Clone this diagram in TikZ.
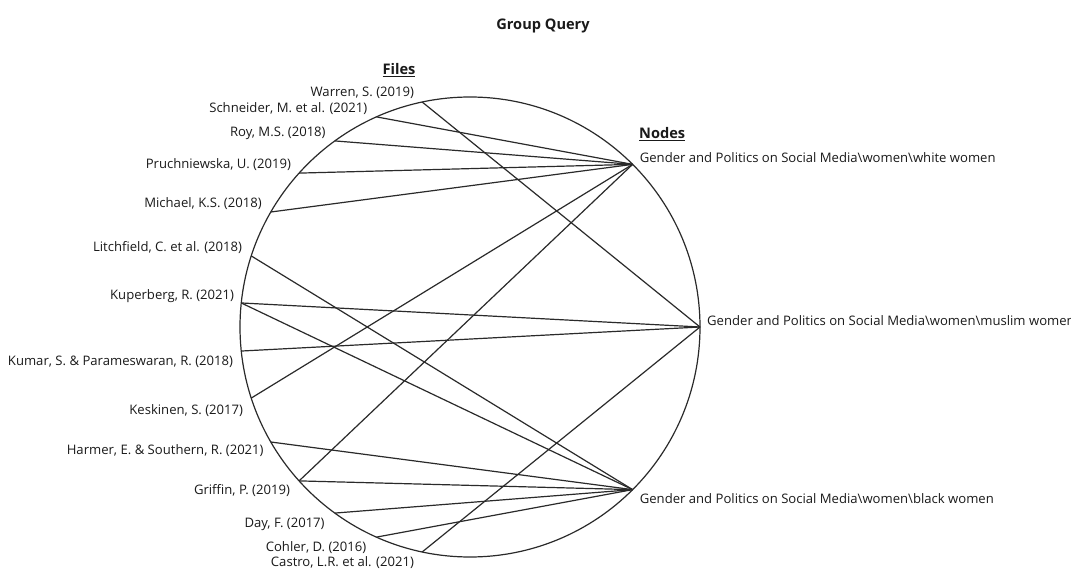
\documentclass[tikz,border=0pt]{standalone}
\usepackage{fontspec}
\setmainfont{Open Sans}
\usetikzlibrary{calc}
\definecolor{ink}{HTML}{2A2A2A}
\definecolor{txt}{HTML}{1A1A1A}
\begin{document}
\begin{tikzpicture}[x=1pt,y=-1pt,
  lbl/.style={inner sep=0pt,text=txt,font=\fontsize{13.1}{15}\selectfont},
  flbl/.style={lbl,anchor=east},
  nlbl/.style={lbl,anchor=west},
  edge/.style={draw=ink,line width=1.2pt},
  hdr/.style={inner sep=0pt,text=txt,font=\fontsize{14.6}{17}\selectfont\bfseries}]
\useasboundingbox (0,0) rectangle (1071,569);
\clip (0,0) rectangle (1071,569);
\fill[white] (0,0) rectangle (1071,569);
\coordinate (c) at (470,327);
\draw[ink,line width=1.2pt] (c) circle[radius=230];
% file points
\foreach \n/\a in {f1/102,f2/114,f3/126,f4/138,f5/150,f6/162,f7/174,f8/186,f9/198,f10/210,f11/222,f12/234,f13/246,f14/258}
  {\coordinate (\n) at ($(c)+(-\a:230)$);}
% node points
\coordinate (white) at ($(c)+(-45:230)$);
\coordinate (muslim) at ($(c)+(0:230)$);
\coordinate (black) at ($(c)+(45:230)$);
% title and headers
\node[hdr] (title) at (543,26) {Group Query};
\node[hdr] (files) at (399,70) {\underline{Files}};
\node[hdr,anchor=west] (nodes) at (639,134) {\underline{Nodes}};
% file labels
\node[flbl] (l1) at ([shift={(-8,-9)}]f1) {Warren, S. (2019)};
\node[flbl] (l2) at ([shift={(-9,-8)}]f2) {Schneider, M. et al. (2021)};
\node[flbl] (l3) at ([shift={(-9,-8)}]f3) {Roy, M.S. (2018)};
\node[flbl] (l4) at ([shift={(-8,-9)}]f4) {Pruchniewska, U. (2019)};
\node[flbl] (l5) at ([shift={(-9,-8)}]f5) {Michael, K.S. (2018)};
\node[flbl] (l6) at ([shift={(-9,-8)}]f6) {Litchfield, C. et al. (2018)};
\node[flbl] (l7) at ([shift={(-7,-7)}]f7) {Kuperberg, R. (2021)};
\node[flbl] (l8) at ([shift={(-8,11)}]f8) {Kumar, S. \& Parameswaran, R. (2018)};
\node[flbl] (l9) at ([shift={(-8,12)}]f9) {Keskinen, S. (2017)};
\node[flbl] (l10) at ([shift={(-7,9)}]f10) {Harmer, E. \& Southern, R. (2021)};
\node[flbl] (l11) at ([shift={(-9,10)}]f11) {Griffin, P. (2019)};
\node[flbl] (l12) at ([shift={(-10,11)}]f12) {Day, F. (2017)};
\node[flbl] (l13) at ([shift={(-10,10)}]f13) {Cohler, D. (2016)};
\node[flbl] (l14) at ([shift={(-8,11)}]f14) {Castro, L.R. et al. (2021)};
% node labels
\node[nlbl] (lw) at ([shift={(7,-7)}]white) {Gender and Politics on Social Media\textbackslash women\textbackslash white women};
\node[nlbl] (lm) at ([shift={(7,-6)}]muslim) {Gender and Politics on Social Media\textbackslash women\textbackslash muslim women};
\node[nlbl] (lb) at ([shift={(7,9)}]black) {Gender and Politics on Social Media\textbackslash women\textbackslash black women};
% edges
\foreach \f in {f2,f3,f4,f5,f9,f11} {\draw[edge] (\f) -- (white);}
\foreach \f in {f1,f7,f8,f14} {\draw[edge] (\f) -- (muslim);}
\foreach \f in {f6,f7,f10,f11,f12,f13} {\draw[edge] (\f) -- (black);}
\end{tikzpicture}
\end{document}
